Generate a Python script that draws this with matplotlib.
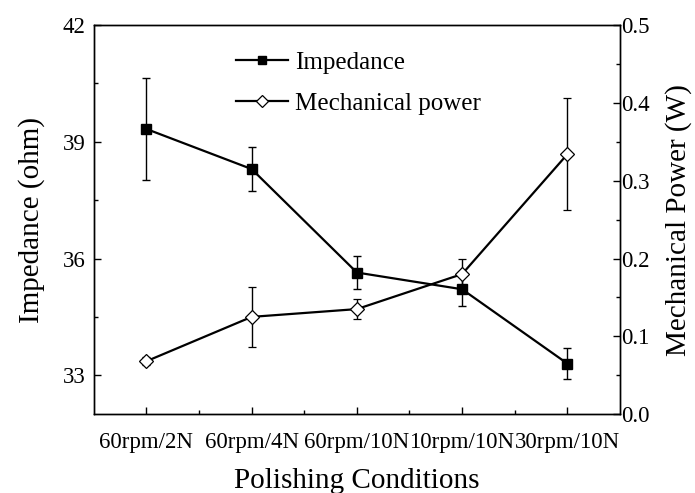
import matplotlib
matplotlib.use('Agg')
import matplotlib.pyplot as plt
from matplotlib.lines import Line2D
from matplotlib.ticker import MultipleLocator, FixedLocator

plt.rcParams['font.family'] = ['Liberation Serif', 'DejaVu Serif']

conditions = ['60rpm/2N', '60rpm/4N', '60rpm/10N', '10rpm/10N', '30rpm/10N']
impedance = [39.33, 38.30, 35.64, 35.21, 33.30]
impedance_err = [1.30, 0.57, 0.43, 0.42, 0.40]
power = [0.068, 0.125, 0.135, 0.180, 0.334]
power_err = [0.005, 0.039, 0.013, 0.019, 0.072]

xpos = list(range(1, len(conditions) + 1))

fig = plt.figure(figsize=(6.95, 4.93), dpi=100)
ax1 = fig.add_axes([0.135, 0.160, 0.757, 0.789])
ax2 = ax1.twinx()

ax1.errorbar(xpos, impedance, yerr=impedance_err, color='black', lw=1.6,
             marker='s', ms=7, mfc='black', mec='black',
             ecolor='black', elinewidth=1.0, capsize=3, capthick=1.0)
ax2.errorbar(xpos, power, yerr=power_err, color='black', lw=1.6,
             marker='D', ms=7, mfc='white', mec='black', mew=0.9,
             ecolor='black', elinewidth=1.0, capsize=3, capthick=1.0)

ax1.set_xlim(0.5, 5.5)
ax1.set_ylim(32, 42)
ax2.set_ylim(0, 0.5)

ax1.set_xticks(xpos)
ax1.set_xticklabels(conditions)
ax1.xaxis.set_minor_locator(FixedLocator([1.5, 2.5, 3.5, 4.5]))
ax1.yaxis.set_major_locator(MultipleLocator(3))
ax1.yaxis.set_minor_locator(MultipleLocator(1.5))
ax2.yaxis.set_major_locator(MultipleLocator(0.1))
ax2.yaxis.set_minor_locator(MultipleLocator(0.05))
ax2.yaxis.set_major_formatter(plt.FormatStrFormatter('%.1f'))

for ax in (ax1, ax2):
    ax.tick_params(which='both', direction='in', labelsize=16.5, width=1.0)
    ax.tick_params(which='major', length=5)
    ax.tick_params(which='minor', length=3)
    for sp in ax.spines.values():
        sp.set_linewidth(1.0)
ax1.tick_params(axis='x', pad=13)
ax1.tick_params(axis='y', pad=6)
ax2.tick_params(axis='y', pad=1)

ax1.set_xlabel('Polishing Conditions', fontsize=21, labelpad=11)
ax1.set_ylabel('Impedance (ohm)', fontsize=21, labelpad=13)
ax2.set_ylabel('Mechanical Power (W)', fontsize=21, labelpad=11)

# legend keys without error bars
h1 = Line2D([], [], color='black', lw=1.6, marker='s', ms=6,
            mfc='black', mec='black')
h2 = Line2D([], [], color='black', lw=1.6, marker='D', ms=6.5,
            mfc='white', mec='black', mew=0.9)
ax1.legend([h1, h2], ['Impedance', 'Mechanical power'],
           loc='upper left', bbox_to_anchor=(0.27, 0.932), frameon=False,
           borderaxespad=0, borderpad=0,
           fontsize=18, handlelength=2.1, handletextpad=0.25,
           labelspacing=0.72)

fig.savefig('out.png', dpi=100)
